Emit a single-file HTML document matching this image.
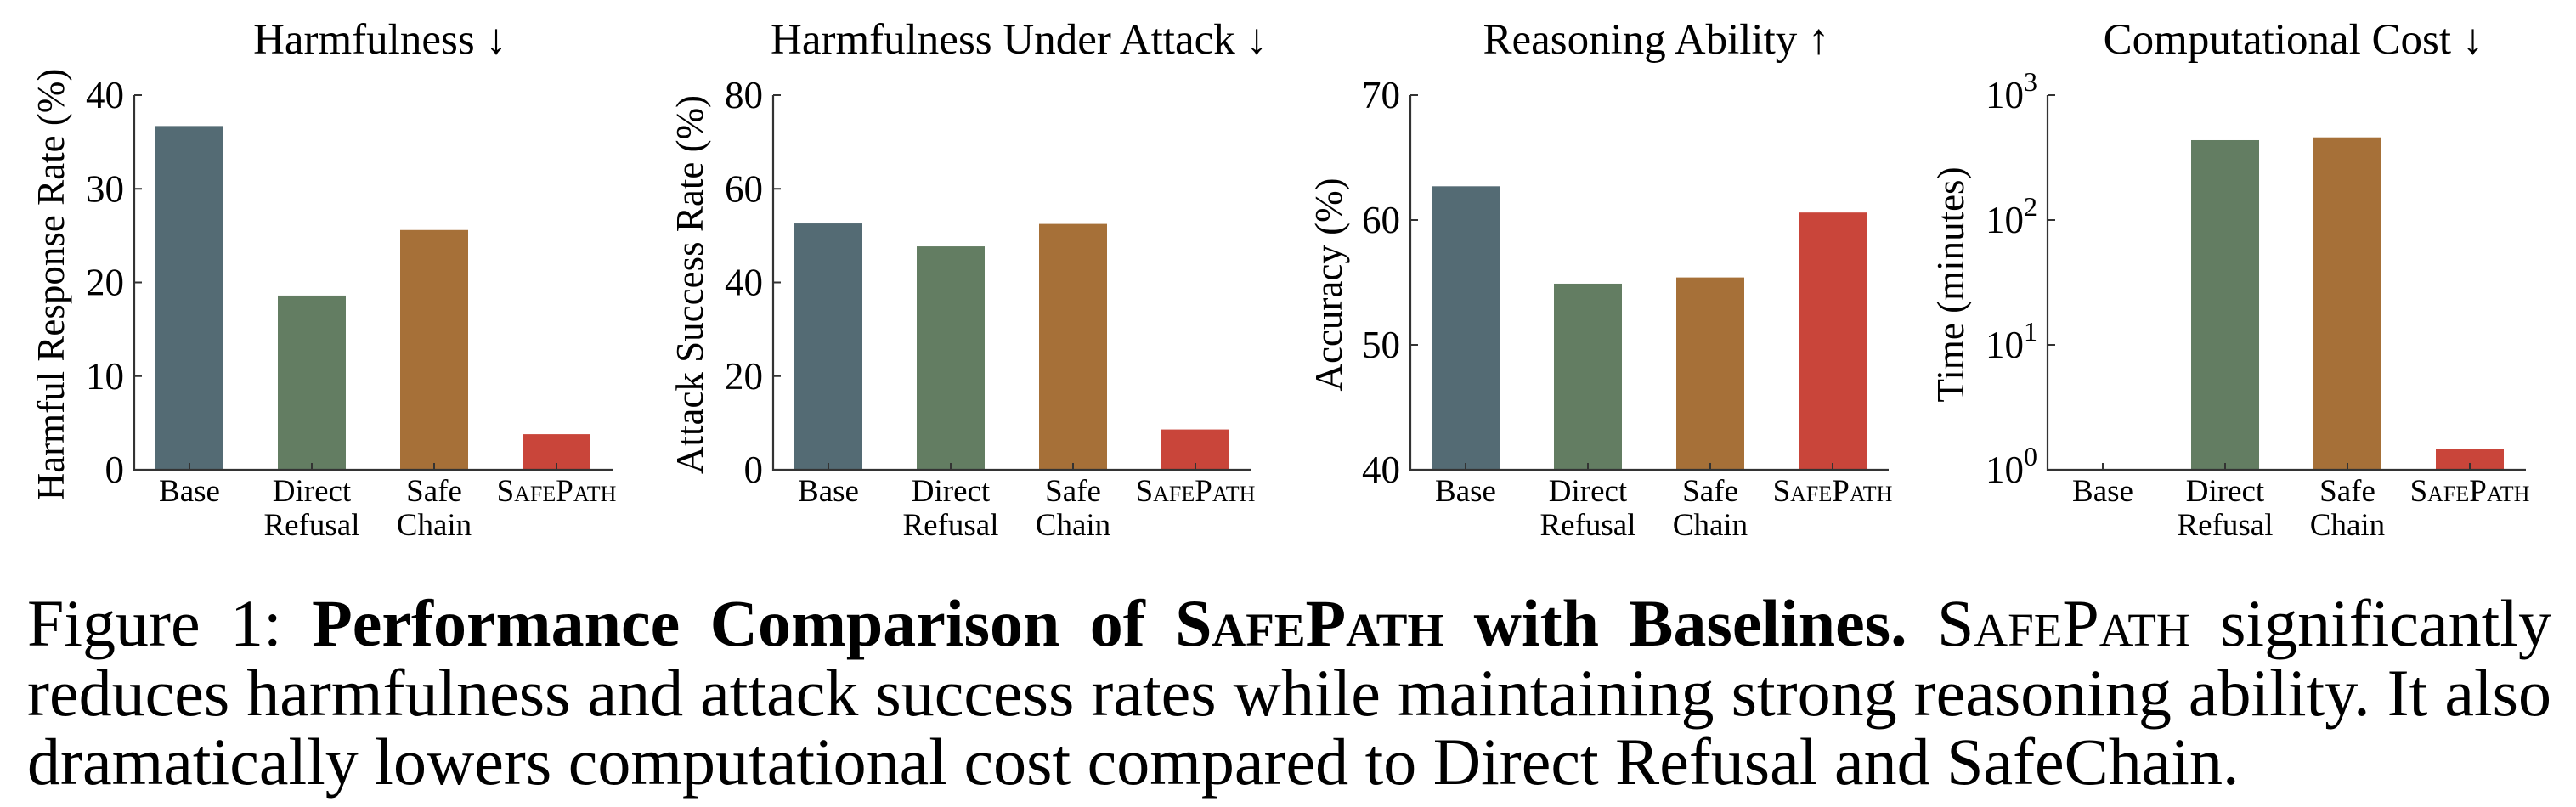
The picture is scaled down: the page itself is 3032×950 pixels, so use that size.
<!DOCTYPE html>
<html><head><meta charset="utf-8">
<style>
html,body{margin:0;padding:0;background:#fff;}
body{width:3032px;height:950px;overflow:hidden;position:relative;font-family:"Liberation Serif","Times New Roman",serif;color:#000;}
svg{position:absolute;left:0;top:0;}
.cap{position:absolute;left:32px;width:2971px;font-size:78px;line-height:78px;white-space:nowrap;}
.j{text-align:justify;text-align-last:justify;white-space:normal;}
.sc{font-variant:small-caps;}
</style></head>
<body>
<svg id="fig" width="3032" height="650"></svg>
<div class="cap j" style="top:695px">Figure 1: <b>Performance Comparison of <span class="sc">SafePath</span> with Baselines.</b> <span class="sc">SafePath</span> significantly</div>
<div class="cap j" style="top:777px">reduces harmfulness and attack success rates while maintaining strong reasoning ability. It also</div>
<div class="cap" style="top:858px">dramatically lowers computational cost compared to Direct Refusal and SafeChain.</div>
<script>
const categories = ["Base", "Direct Refusal", "Safe Chain", "SafePath"];
const harmfulValues = [36.7, 18.6, 25.6, 3.8];
const attackValues = [52.6, 47.7, 52.5, 8.6];
const accuracyValues = [62.7, 54.9, 55.4, 60.6];
const timeValues = [1.0, 436, 459, 1.47];
const harmfulTicks = [0, 10, 20, 30, 40];
const attackTicks = [0, 20, 40, 60, 80];
const accuracyTicks = [40, 50, 60, 70];
const timeTickExps = [0, 1, 2, 3];
const colors = ["#546b74", "#637d62", "#a67038", "#c9453a"];

const NS = "http://www.w3.org/2000/svg";
const svg = document.getElementById("fig");
function mk(tag, attrs, parent) {
  const e = document.createElementNS(NS, tag);
  for (const k in attrs) e.setAttribute(k, attrs[k]);
  (parent || svg).appendChild(e);
  return e;
}
const Y0 = 553, Y1 = 112;
const panels = [
  {key:"harmfulness", title:"Harmfulness ↓", ylab:"Harmful Response Rate (%)", ax:158, vals:harmfulValues, ticks:harmfulTicks, min:0, max:40, log:false, labx:59},
  {key:"attack", title:"Harmfulness Under Attack ↓", ylab:"Attack Success Rate (%)", ax:910, vals:attackValues, ticks:attackTicks, min:0, max:80, log:false, labx:811},
  {key:"reasoning", title:"Reasoning Ability ↑", ylab:"Accuracy (%)", ax:1660, vals:accuracyValues, ticks:accuracyTicks, min:40, max:70, log:false, labx:1563},
  {key:"cost", title:"Computational Cost ↓", ylab:"Time (minutes)", ax:2410, vals:timeValues, ticks:timeTickExps, min:0, max:3, log:true, labx:2295}
];
panels.forEach(p => {
  const g = mk("g", {});
  
  
  const yScale = v => {
    const t = p.log ? Math.log10(v) : v;
    return Y0 - (t - p.min) / (p.max - p.min) * (Y0 - Y1);
  };
  const step = 144, bw = 80;
  const xc = i => p.ax + 25 + bw/2 + i*step;
  const axEnd = xc(3) + bw/2 + 26;
  p.vals.forEach((v, i) => {
    const y = yScale(v);
    const r = mk("rect", {x: xc(i)-bw/2, y: y, width: bw, height: Math.max(0, Y0 - y), fill: colors[i]}, g);
    
    
  });
  const ya = mk("line", {x1:p.ax, y1:Y1, x2:p.ax, y2:Y0+1, stroke:"#333", "stroke-width":2.2}, g);
  
  
  const xa = mk("line", {x1:p.ax-1, y1:Y0, x2:axEnd, y2:Y0, stroke:"#333", "stroke-width":2.2}, g);
  
  
  p.ticks.forEach(t => {
    const y = p.log ? yScale(Math.pow(10, t)) : yScale(t);
    mk("line", {x1:p.ax, y1:y, x2:p.ax+9, y2:y, stroke:"#333", "stroke-width":2}, g);
    const tx = mk("text", {x:p.ax-12, y:y+15, "font-size":45, "text-anchor":"end", "font-family":"Liberation Serif, serif"}, g);
    
    
    if (p.log) {
      const a = mk("tspan", {}, tx); a.textContent = "10";
      const b = mk("tspan", {dy:-20, "font-size":32}, tx); b.textContent = String(t);
    } else tx.textContent = String(t);
  });
  categories.forEach((c, i) => {
    mk("line", {x1:xc(i), y1:Y0, x2:xc(i), y2:Y0-8, stroke:"#333", "stroke-width":2}, g);
    const parts = c === "SafePath" ? ["SafePath"] : c.split(" ");
    parts.forEach((w, k) => {
      const t = mk("text", {x:xc(i), y:590 + k*40, "font-size":37, "text-anchor":"middle", "font-family":"Liberation Serif, serif"}, g);
      if (w === "SafePath") t.setAttribute("style", "font-variant:small-caps");
      t.textContent = w;
      
      
    });
  });
  const tt = mk("text", {x:(p.ax + axEnd)/2 + 8, y:63, "font-size":51, "text-anchor":"middle", "font-family":"Liberation Serif, serif"}, g);
  tt.textContent = p.title;
  
  
  const yl = mk("text", {x:0, y:0, "font-size":45, "text-anchor":"middle", "font-family":"Liberation Serif, serif", transform:"translate(" + (p.labx+16) + ",335) rotate(-90)"}, g);
  yl.textContent = p.ylab;
  
  
});
</script>
</body></html>
